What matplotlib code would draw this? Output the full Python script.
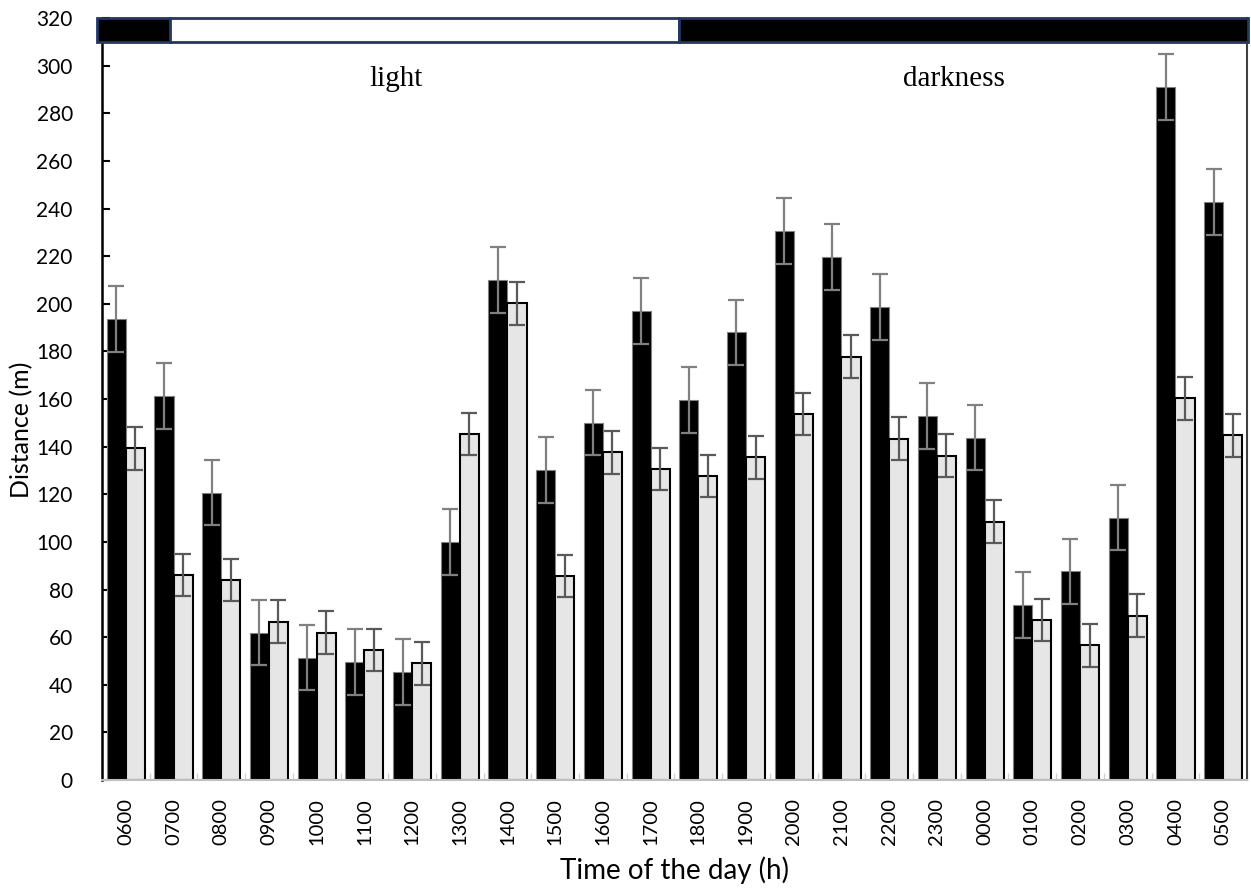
import matplotlib
matplotlib.use("Agg")
import matplotlib.pyplot as plt
from matplotlib.patches import Rectangle
import numpy as np

# Hour of the day (24 h cycle starting at 0600)
hours = ["0600", "0700", "0800", "0900", "1000", "1100", "1200", "1300",
         "1400", "1500", "1600", "1700", "1800", "1900", "2000", "2100",
         "2200", "2300", "0000", "0100", "0200", "0300", "0400", "0500"]

# Mean distance travelled (m), two groups
dist_black = [193.5, 161.3, 120.7, 61.9, 51.4, 49.6, 45.5, 100.1,
              210.0, 130.2, 150.1, 197.0, 159.6, 188.0, 230.6, 219.8,
              198.8, 153.0, 143.8, 73.4, 87.6, 110.2, 290.9, 242.8]
dist_grey = [139.3, 86.1, 84.0, 66.5, 61.9, 54.6, 49.1, 145.3,
             200.3, 85.7, 137.6, 130.6, 127.7, 135.5, 153.7, 177.8,
             143.3, 136.2, 108.5, 67.2, 56.6, 69.0, 160.4, 144.8]

# Standard errors
se_black = [13.8] * 24
se_grey = [9.0] * 24

# Photoperiod band (category-axis units)
band_start, light_on, light_off, band_end = -0.6, 0.92, 11.6, 23.52
band_low, band_high = 310, 320

plt.rcParams["font.family"] = ["Lato", "DejaVu Sans"]

fig = plt.figure(figsize=(12.51, 8.90), dpi=100)
ax = fig.add_axes([0.0815, 0.1236, 0.9153, 0.8561])

x = np.arange(len(hours))
w = 0.4

ax.bar(x - w / 2, dist_black, width=w, color="black", edgecolor="#808080",
       linewidth=0.8, zorder=2)
ax.bar(x + w / 2, dist_grey, width=w, color="#e6e6e6", edgecolor="black",
       linewidth=1.5, zorder=2)
ax.errorbar(x - w / 2, dist_black, yerr=se_black, fmt="none", ecolor="#808080",
            elinewidth=1.6, capsize=6, capthick=1.6, zorder=3)
ax.errorbar(x + w / 2, dist_grey, yerr=se_grey, fmt="none", ecolor="#595959",
            elinewidth=1.6, capsize=6, capthick=1.6, zorder=3)

ax.set_xlim(-0.5, len(hours) - 0.5)
ax.set_ylim(0, 320)
ax.set_yticks(np.arange(0, 321, 20))
ax.set_xticks(x)
ax.set_xticklabels(hours, rotation=90)
ax.set_xticks(np.arange(-0.5, len(hours), 1.0), minor=True)

ax.tick_params(axis="y", direction="in", length=6, width=1.5, color="black",
               labelsize=15, pad=21)
ax.tick_params(axis="x", which="major", length=0, labelsize=14.5, pad=13)
ax.tick_params(axis="x", which="minor", direction="in", length=5, width=1,
               color="#d0d0d0")

ax.spines["left"].set_linewidth(1.8)
ax.spines["left"].set_color("black")
ax.spines["bottom"].set_color("#bfbfbf")
ax.spines["bottom"].set_linewidth(1.5)
ax.spines["right"].set_color("#404040")
ax.spines["right"].set_linewidth(1.5)
ax.spines["top"].set_visible(False)

ax.set_ylabel("Distance (m)", fontsize=18)
ax.yaxis.set_label_coords(-0.06, 0.46)
ax.set_xlabel("Time of the day (h)", fontsize=20, labelpad=8)

# Light / dark bar along the top
band_edge = "#1f3864"
for x0, x1, fc in [(band_start, light_on, "black"),
                   (light_on, light_off, "white"),
                   (light_off, band_end, "black")]:
    ax.add_patch(Rectangle((x0, band_low), x1 - x0, band_high - band_low,
                           facecolor=fc, edgecolor=band_edge, linewidth=2,
                           clip_on=False, zorder=5))

ax.text(5.67, 294.5, "light", fontsize=21, family="Liberation Serif",
        ha="center", va="center")
ax.text(17.36, 294.5, "darkness", fontsize=21, family="Liberation Serif",
        ha="center", va="center")

fig.savefig("out.png", dpi=100)
